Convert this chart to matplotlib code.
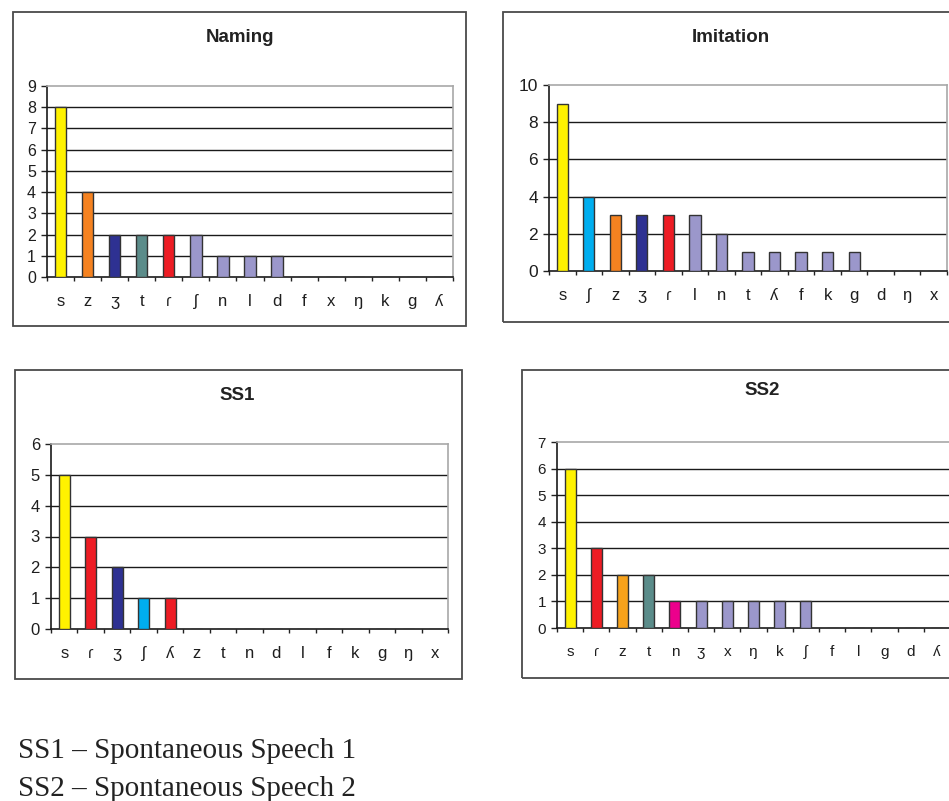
import matplotlib
matplotlib.use("Agg")
import matplotlib.pyplot as plt
from matplotlib.patches import Rectangle

W, H = 949, 801

# ---- data ----
naming_labels = ["s", "z", "ʒ", "t", "ɾ", "ʃ", "n", "l", "d", "f", "x", "ŋ", "k", "g", "ʎ"]
naming_values = [8, 4, 2, 2, 2, 2, 1, 1, 1, 0, 0, 0, 0, 0, 0]

imitation_labels = ["s", "ʃ", "z", "ʒ", "ɾ", "l", "n", "t", "ʎ", "f", "k", "g", "d", "ŋ", "x"]
imitation_values = [9, 4, 3, 3, 3, 3, 2, 1, 1, 1, 1, 1, 0, 0, 0]

ss1_labels = ["s", "ɾ", "ʒ", "ʃ", "ʎ", "z", "t", "n", "d", "l", "f", "k", "g", "ŋ", "x"]
ss1_values = [5, 3, 2, 1, 1, 0, 0, 0, 0, 0, 0, 0, 0, 0, 0]

ss2_labels = ["s", "ɾ", "z", "t", "n", "ʒ", "x", "ŋ", "k", "ʃ", "f", "l", "g", "d", "ʎ"]
ss2_values = [6, 3, 2, 2, 1, 1, 1, 1, 1, 1, 0, 0, 0, 0, 0]

# ---- colours ----
YEL, ORA, NAV, TEA, RED, LAV, CYA, MAG, AMB = ("#FFF200", "#F58220", "#2E3192", "#5B8C8A",
                                              "#ED1C24", "#9B97CB", "#00AEEF", "#EC008C", "#F7A21B")
naming_colors = [YEL, ORA, NAV, TEA, RED] + [LAV] * 10
imitation_colors = [YEL, CYA, ORA, NAV, RED] + [LAV] * 10
ss1_colors = [YEL, RED, NAV, CYA, RED] + [LAV] * 10
ss2_colors = [YEL, RED, AMB, TEA, MAG] + [LAV] * 10

FONT = ["Liberation Sans", "DejaVu Sans"]
plt.rcParams["font.family"] = FONT

fig = plt.figure(figsize=(W / 100, H / 100), dpi=100)


def px_rect(l, t, r, b):
    return [l / W, 1 - b / H, (r - l) / W, (b - t) / H]


def frame(l, t, r, b):
    fig.patches.append(Rectangle((l / W, 1 - b / H), (r - l) / W, (b - t) / H,
                                 transform=fig.transFigure, fill=False,
                                 edgecolor="#4a4a4a", linewidth=1.3))


def panel(rect, title, title_xy, labels, values, colors, ymax, ystep, yfs, xfs):
    ax = fig.add_axes(px_rect(*rect))
    n = len(labels)
    x = list(range(n))
    ax.bar(x, values, width=0.42, color=colors, edgecolor="#333333", linewidth=1.0, zorder=3)
    ax.set_xlim(-0.5, n - 0.5)
    ax.set_ylim(0, ymax)
    yt = list(range(0, ymax + 1, ystep))
    ax.set_yticks(yt)
    ax.set_yticklabels([str(v) for v in yt], fontsize=yfs, color="#1e1e1e")
    for v in yt[1:-1]:
        ax.axhline(v, color="#1a1a1a", linewidth=1.0, zorder=1)
    ax.set_xticks([i - 0.5 for i in range(n + 1)])
    ax.set_xticklabels([])
    ax.set_xticks(x, minor=True)
    ax.set_xticklabels(labels, minor=True, fontsize=xfs, color="#1e1e1e")
    ax.tick_params(axis="x", which="major", direction="out", length=3, width=1, color="#222222")
    ax.tick_params(axis="x", which="minor", length=0, pad=12)
    ax.tick_params(axis="y", direction="out", length=4, width=1, pad=4, color="#222222")
    for s in ("top", "right"):
        ax.spines[s].set_color("#a8a8a8")
        ax.spines[s].set_linewidth(1.2)
    for s in ("left", "bottom"):
        ax.spines[s].set_color("#1a1a1a")
        ax.spines[s].set_linewidth(1.2)
    fig.text(title_xy[0] / W, 1 - title_xy[1] / H, title, ha="center", va="center",
             fontsize=13.5, fontweight="bold", color="#222222")
    return ax


frame(13, 12, 466, 326)
frame(503, 12, 975, 322)
frame(15, 370, 462, 679)
frame(522, 370, 975, 678)

panel((47, 86, 453, 277), "Naming", (240, 37), naming_labels, naming_values, naming_colors,
      9, 1, 11.5, 12)
panel((549, 85, 947, 271), "Imitation", (731, 37), imitation_labels, imitation_values,
      imitation_colors, 10, 2, 12.5, 12)
panel((51, 444, 448, 629), "SS1", (237, 396), ss1_labels, ss1_values, ss1_colors,
      6, 1, 12, 12)
panel((557, 442, 950, 628), "SS2", (762, 390), ss2_labels, ss2_values, ss2_colors,
      7, 1, 11, 11)

fig.text(18 / W, 1 - 758 / H, "SS1 – Spontaneous Speech 1", ha="left", va="baseline",
         fontsize=21, family=["Liberation Serif", "DejaVu Serif"], color="#222222")
fig.text(18 / W, 1 - 796 / H, "SS2 – Spontaneous Speech 2", ha="left", va="baseline",
         fontsize=21, family=["Liberation Serif", "DejaVu Serif"], color="#222222")

fig.savefig("out.png", dpi=100, facecolor="white")
